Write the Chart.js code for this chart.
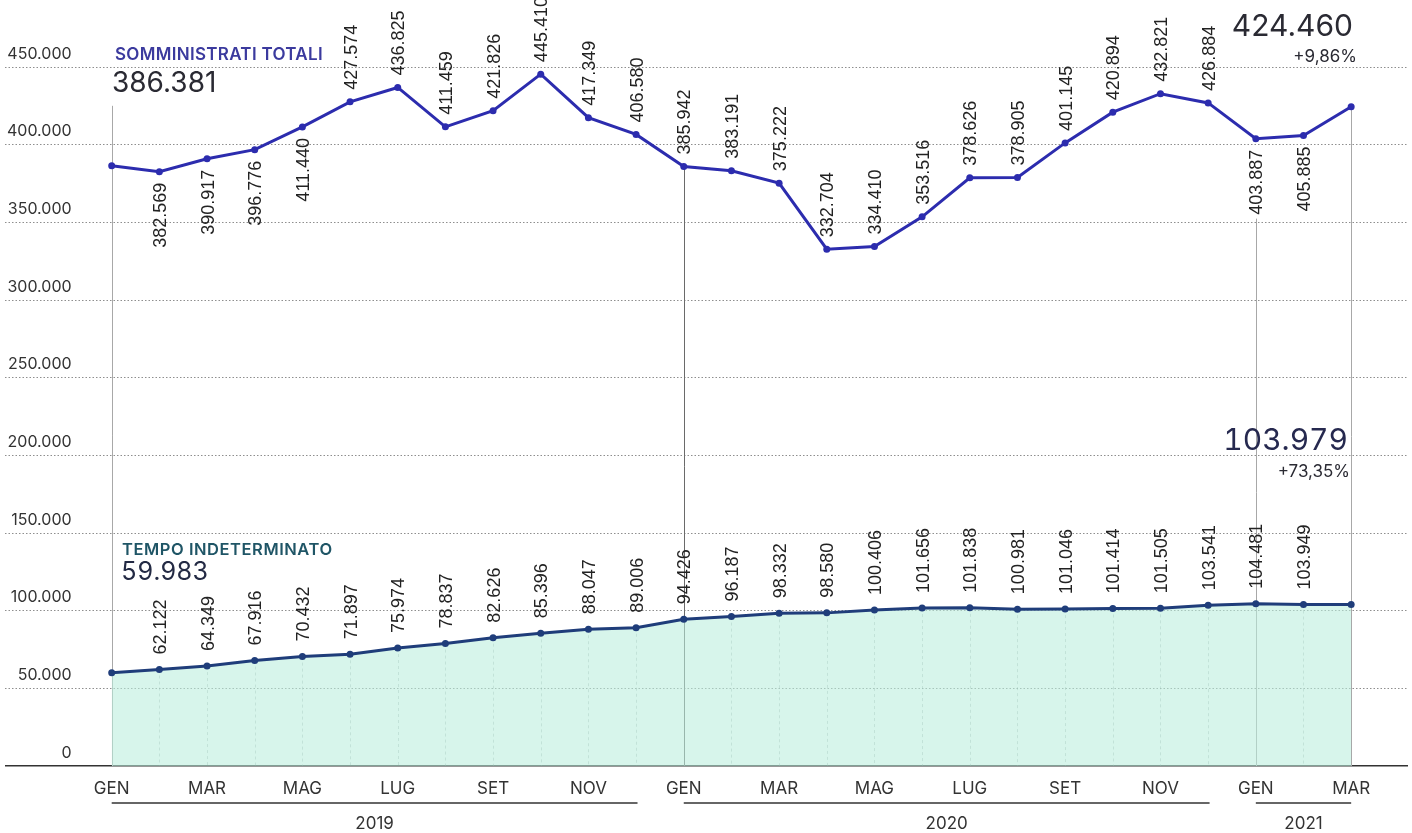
<!DOCTYPE html>
<html><head><meta charset="utf-8">
<script src="https://cdn.jsdelivr.net/npm/chart.js@4.4.1/dist/chart.umd.min.js"></script>
<style>
html,body{margin:0;padding:0;background:#fff;}
#wrap{position:relative;width:1412px;height:833px;overflow:hidden;}
canvas{position:absolute;left:0;top:0;}
.t{position:absolute;white-space:nowrap;line-height:1;font-family:Inter,"DejaVu Sans",sans-serif;}
.tn{font-variant-numeric:tabular-nums;}
</style></head>
<body><div id="wrap"><canvas id="c" width="1412" height="833"></canvas>
<div class="t" id="tTot" style="left:115px;top:46px;font-size:17px;font-weight:600;letter-spacing:0.3px;color:#3b3a9e;">SOMMINISTRATI TOTALI</div>
<div class="t" id="vTot0" style="left:112px;top:68px;font-size:28px;color:#2a2a33;"></div>
<div class="t" id="vTotN" style="right:59px;top:10px;font-size:30px;color:#2a2a33;"></div>
<div class="t" id="pTot" style="right:55px;top:48px;font-size:17px;color:#2a2a33;"></div>
<div class="t" id="tInd" style="left:122px;top:541px;font-size:16.5px;font-weight:600;letter-spacing:0.55px;color:#1f5566;">TEMPO INDETERMINATO</div>
<div class="t tn" id="vInd0" style="left:121px;top:559px;font-size:25px;color:#232a44;"></div>
<div class="t tn" id="vIndN" style="right:64px;top:424px;font-size:30px;color:#26294f;"></div>
<div class="t" id="pInd" style="right:62px;top:463px;font-size:17px;color:#2a2a33;"></div>
</div>
<script>
// ---- DATA ----
const monthLabels = ['GEN','FEB','MAR','APR','MAG','GIU','LUG','AGO','SET','OTT','NOV','DIC',
                     'GEN','FEB','MAR','APR','MAG','GIU','LUG','AGO','SET','OTT','NOV','DIC',
                     'GEN','FEB','MAR'];
const years = ['2019','2020','2021'];
const yearStart = [0, 12, 24];
const yearEnd = [11, 23, 26];
const totali = [386381, 382569, 390917, 396776, 411440, 427574, 436825, 411459, 421826, 445410, 417349, 406580,
                385942, 383191, 375222, 332704, 334410, 353516, 378626, 378905, 401145, 420894, 432821, 426884,
                403887, 405885, 424460];
const indeterminato = [59983, 62122, 64349, 67916, 70432, 71897, 75974, 78837, 82626, 85396, 88047, 89006,
                       94426, 96187, 98332, 98580, 100406, 101656, 101838, 100981, 101046, 101414, 101505, 103541,
                       104481, 103949, 103979];
const yTickValues = [0, 50000, 100000, 150000, 200000, 250000, 300000, 350000, 400000, 450000];

// ---- helpers ----
const fmt = v => String(Math.round(v)).replace(/\B(?=(\d{3})+(?!\d))/g, '.');
const pct = (a, b) => '+' + ((b / a - 1) * 100).toFixed(2).replace('.', ',') + '%';

document.getElementById('vTot0').textContent = fmt(totali[0]);
document.getElementById('vTotN').textContent = fmt(totali[totali.length - 1]);
document.getElementById('pTot').textContent = pct(totali[0], totali[totali.length - 1]);
document.getElementById('vInd0').textContent = fmt(indeterminato[0]);
document.getElementById('vIndN').textContent = fmt(indeterminato[indeterminato.length - 1]);
document.getElementById('pInd').textContent = pct(indeterminato[0], indeterminato[indeterminato.length - 1]);

const TOT_COLOR = '#2c2cae';
const IND_COLOR = '#1f3d7a';
const belowIdx = [1, 2, 3, 4, 24, 25];   // label placement for top series
const yearLineIdx = [0, 12, 24, 26];

const decor = {
  id: 'decor',
  beforeDatasetsDraw(chart) {
    const {ctx, scales: {x, y}} = chart;
    ctx.save();
    ctx.strokeStyle = 'rgba(110,130,125,0.35)';
    ctx.lineWidth = 1;
    ctx.setLineDash([3, 3]);
    indeterminato.forEach((v, i) => {
      const px = Math.round(x.getPixelForValue(i)) + 0.5;
      ctx.beginPath();
      ctx.moveTo(px, y.getPixelForValue(v));
      ctx.lineTo(px, y.getPixelForValue(0));
      ctx.stroke();
    });
    ctx.setLineDash([]);
    yearLineIdx.forEach(i => {
      const px = Math.round(x.getPixelForValue(i)) + 0.5;
      let top = y.getPixelForValue(totali[i]);
      if (belowIdx.includes(i)) top += 80;
      if (i === 0) top -= 60;
      ctx.strokeStyle = i === 12 ? '#6a6a6a' : '#a8a8a8';
      ctx.lineWidth = 1;
      ctx.beginPath();
      ctx.moveTo(px, top);
      ctx.lineTo(px, y.getPixelForValue(0));
      ctx.stroke();
    });
    ctx.restore();
  },
  afterDatasetsDraw(chart) {
    const {ctx, scales: {x, y}} = chart;
    ctx.save();
    ctx.font = '18px "Liberation Sans", Arial, sans-serif';
    ctx.fillStyle = '#222';
    ctx.textBaseline = 'alphabetic';
    const drawLabel = (i, v, below, gap) => {
      const px = x.getPixelForValue(i), py = y.getPixelForValue(v);
      ctx.save();
      ctx.translate(px + 6.5, below ? py + gap : py - gap);
      ctx.rotate(-Math.PI / 2);
      ctx.textAlign = below ? 'right' : 'left';
      ctx.fillText(fmt(v), 0, 0);
      ctx.restore();
    };
    totali.forEach((v, i) => {
      if (i === 0 || i === totali.length - 1) return;
      const below = belowIdx.includes(i);
      drawLabel(i, v, below, below ? 11 : 12);
    });
    indeterminato.forEach((v, i) => {
      if (i === 0 || i === indeterminato.length - 1) return;
      drawLabel(i, v, false, 15);
    });
    ctx.restore();
  },
  afterDraw(chart) {
    const {ctx, scales: {x}, chartArea} = chart;
    ctx.save();
    ctx.strokeStyle = '#333';
    ctx.lineWidth = 1.5;
    ctx.fillStyle = '#333';
    ctx.font = '17px Inter, sans-serif';
    ctx.textAlign = 'center';
    ctx.textBaseline = 'alphabetic';
    years.forEach((yr, k) => {
      const x0 = x.getPixelForValue(yearStart[k]);
      const x1 = yearEnd[k] === 26 ? x.getPixelForValue(yearEnd[k]) : x.getPixelForValue(yearEnd[k] + 0.03);
      const ly = chartArea.bottom + 37;
      ctx.beginPath();
      ctx.moveTo(x0, ly);
      ctx.lineTo(x1, ly);
      ctx.stroke();
      ctx.fillText(yr, (x0 + x1) / 2, chartArea.bottom + 63);
    });
    ctx.restore();
  }
};

const X0 = 112, XN = 1355, LEFT = 5, RIGHT = 1412;
const unit = (XN - X0) / (monthLabels.length - 1);

new Chart(document.getElementById('c'), {
  type: 'line',
  data: {
    datasets: [
      {
        label: 'Somministrati totali',
        data: totali.map((v, i) => ({x: i, y: v})),
        borderColor: TOT_COLOR,
        backgroundColor: TOT_COLOR,
        borderWidth: 3,
        pointRadius: 3.5,
        pointBorderWidth: 0,
        pointBackgroundColor: TOT_COLOR,
        tension: 0,
        fill: false
      },
      {
        label: 'Tempo indeterminato',
        data: indeterminato.map((v, i) => ({x: i, y: v})),
        borderColor: IND_COLOR,
        borderWidth: 3,
        pointRadius: 3.5,
        pointBorderWidth: 0,
        pointBackgroundColor: IND_COLOR,
        tension: 0,
        fill: 'origin',
        backgroundColor: 'rgba(186,238,220,0.58)'
      }
    ]
  },
  options: {
    responsive: false,
    animation: false,
    layout: {padding: {top: 67, left: LEFT, right: 0, bottom: 0}},
    plugins: {legend: {display: false}, tooltip: {enabled: false}},
    scales: {
      x: {
        type: 'linear',
        min: -(X0 - LEFT) / unit,
        max: (monthLabels.length - 1) + (RIGHT - XN) / unit,
        afterBuildTicks: s => { s.ticks = monthLabels.map((_, i) => ({value: i})); },
        afterFit: s => { s.height = 67; },
        grid: {display: false, drawTicks: false},
        border: {display: false},
        ticks: {
          autoSkip: false, maxRotation: 0, padding: 13,
          color: '#333',
          font: {family: 'Inter', size: 17},
          callback: v => (v % 2 === 0 ? monthLabels[v] : '')
        }
      },
      y: {
        min: 0, max: 450000,
        afterBuildTicks: s => { s.ticks = yTickValues.map(v => ({value: v})); },
        afterFit: s => { s.width = 0; },
        grid: {
          drawTicks: false,
          color: c => (c.tick && c.tick.value === 0 ? '#333' : '#8e8e8e'),
          lineWidth: c => (c.tick && c.tick.value === 0 ? 1.6 : 1)
        },
        border: {display: false, dash: c => (c.tick && c.tick.value === 0 ? [] : [1.5, 2])},
        ticks: {
          mirror: true, crossAlign: 'far', padding: 2, labelOffset: -13,
          color: '#333',
          font: {family: 'Inter', size: 16},
          callback: v => fmt(v)
        }
      }
    }
  },
  plugins: [decor]
});
</script>
</body></html>
